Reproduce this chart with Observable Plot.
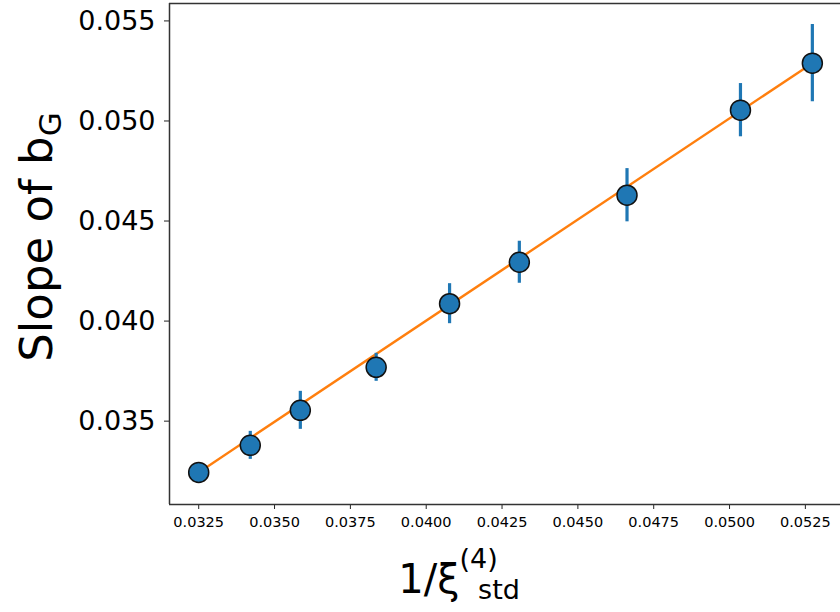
<!DOCTYPE html>
<html>
<head>
<meta charset="utf-8">
<script src="https://cdn.jsdelivr.net/npm/d3@7"></script>
<script src="https://cdn.jsdelivr.net/npm/@observablehq/plot@0.6"></script>
<style>
  html, body { margin: 0; padding: 0; background: #fff; }
  #chart svg { display: block; }
</style>
</head>
<body>
<div id="chart"></div>
<script>
// Data
const invXi = [0.0325, 0.0342, 0.03585, 0.03835, 0.04077, 0.04307, 0.04662, 0.05036, 0.05273];
const slope = [0.03244, 0.03379, 0.03554, 0.03769, 0.04087, 0.04294, 0.04629, 0.05054, 0.05289];
const slopeErr = [0.00015, 0.0007, 0.00095, 0.0007, 0.001, 0.00105, 0.00133, 0.00133, 0.00193];
const fitX = [0.0325, 0.05273];
const fitY = [0.03244, 0.05289];
const xTicks = [0.0325, 0.0350, 0.0375, 0.0400, 0.0425, 0.0450, 0.0475, 0.0500, 0.0525];
const yTicks = [0.035, 0.040, 0.045, 0.050, 0.055];

const points = invXi.map((x, i) => ({x, y: slope[i], lo: slope[i] - slopeErr[i], hi: slope[i] + slopeErr[i]}));
const fit = fitX.map((x, i) => ({x, y: fitY[i]}));

const xDomain = [0.031537, 0.053658];
const yDomain = [0.030835, 0.05587];

const plot = Plot.plot({
  width: 840,
  height: 612,
  marginLeft: 169,
  marginRight: 0,
  marginTop: 3,
  marginBottom: 108,
  style: {fontFamily: "DejaVu Sans", background: "#fff", color: "#000"},
  x: {domain: xDomain},
  y: {domain: yDomain},
  marks: [
    Plot.axisX({ticks: xTicks, tickFormat: d3.format(".4f"), tickSize: 5, tickPadding: 7, fontSize: 14.5, label: null, stroke: "#222"}),
    Plot.axisY({ticks: yTicks, tickFormat: d3.format(".3f"), tickSize: 5, tickPadding: 9, fontSize: 27, label: null, stroke: "#222"}),
    Plot.ruleX([xDomain[0]], {stroke: "#333", strokeWidth: 1.5}),
    Plot.ruleY([yDomain[0]], {stroke: "#333", strokeWidth: 1.5}),
    Plot.ruleY([yDomain[1]], {stroke: "#333", strokeWidth: 1.5}),
    Plot.line(fit, {x: "x", y: "y", stroke: "#ff7f0e", strokeWidth: 2.4}),
    Plot.ruleX(points, {x: "x", y1: "lo", y2: "hi", stroke: "#1f77b4", strokeWidth: 3.2}),
    Plot.dot(points, {x: "x", y: "y", r: 10, fill: "#1f77b4", stroke: "#111", strokeWidth: 1.5})
  ]
});

const svg = d3.select(plot);
// Y axis label: Slope of b_G
const yl = svg.append("text")
  .attr("transform", "translate(52,237) rotate(-90)")
  .attr("text-anchor", "middle")
  .attr("font-family", "DejaVu Sans")
  .attr("font-size", 45)
  .attr("fill", "#000");
yl.append("tspan").text("Slope of b");
yl.append("tspan").attr("font-size", 31).attr("dy", 9).text("G");

// X axis label: 1/ξ_std^(4)
const xl = svg.append("text")
  .attr("x", 448)
  .attr("y", 593)
  .attr("font-family", "DejaVu Sans")
  .attr("font-size", 40)
  .attr("fill", "#000");
xl.append("tspan").text("1/ξ");
xl.append("tspan").attr("font-size", 27).attr("dy", -25).text("(4)");
xl.append("tspan").attr("font-size", 27).attr("x", 499).attr("dy", 31).text("std");

document.getElementById("chart").appendChild(plot);
</script>
</body>
</html>
